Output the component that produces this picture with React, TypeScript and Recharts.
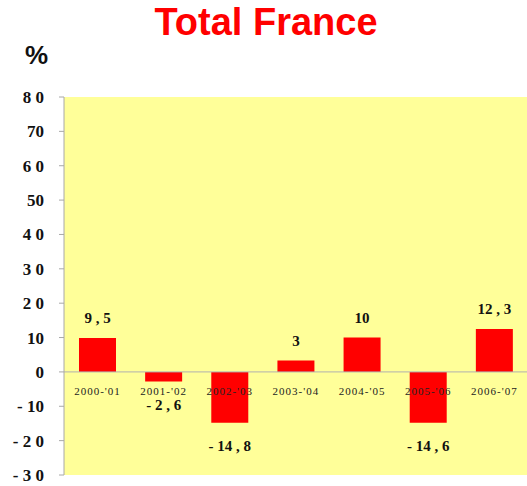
import { Bar, BarChart, CartesianGrid, LabelList, ReferenceLine, XAxis, YAxis } from "recharts";

const seasons = ["2000-'01", "2001-'02", "2002-'03", "2003-'04", "2004-'05", "2005-'06", "2006-'07"];
const change = [9.9, -2.8, -14.8, 3.3, 10, -14.8, 12.5];
const valueLabels = ["9 , 5", "- 2 , 6", "- 14 , 8", "3", "10", "- 14 , 6", "12 , 3"];
const yTicks = [-30, -20, -10, 0, 10, 20, 30, 40, 50, 60, 70, 80];
const yTickLabels = ["- 3 0", "- 2 0", "- 10", "0", "10", "2 0", "3 0", "4 0", "50", "6 0", "70", "8 0"];

const data = seasons.map((name, i) => ({ name, value: change[i], label: valueLabels[i] }));

const SERIF = "'Liberation Serif', 'Times New Roman', serif";

function ValueLabel(props: any) {
  const { x, y, width, height, index } = props;
  const top = Math.min(y, y + height);
  const bottom = Math.max(y, y + height);
  const v = change[index];
  const cx = x + width / 2;
  const ty = v >= 0 ? top - 20 : bottom + 23;
  return (
    <text x={cx} y={ty} textAnchor="middle" dominantBaseline="central" fontFamily={SERIF} fontWeight="bold" fontSize={15} fill="#111">
      {valueLabels[index]}
    </text>
  );
}

function SeasonLabel(props: any) {
  const { x, y, width, height, index } = props;
  const v = change[index];
  const zero = v >= 0 ? Math.max(y, y + height) : Math.min(y, y + height);
  return (
    <text x={x + width / 2} y={zero + 19} textAnchor="middle" dominantBaseline="central" fontFamily={SERIF} fontSize={11} letterSpacing={1} fill="#222">
      {seasons[index]}
    </text>
  );
}

export default function App() {
  return (
    <div style={{ position: "absolute", left: 0, top: 0, width: 527, height: 486, background: "#fff" }}>
      <div
        style={{
          position: "absolute",
          left: 0,
          width: 532,
          top: 0,
          textAlign: "center",
          fontFamily: "'Liberation Sans', Arial, sans-serif",
          fontWeight: "bold",
          fontSize: 38,
          lineHeight: "44px",
          color: "#ff0000",
        }}
      >
        Total France
      </div>
      <div
        style={{
          position: "absolute",
          left: 25,
          top: 40,
          fontFamily: "'Liberation Sans', Arial, sans-serif",
          fontWeight: "bold",
          fontSize: 26,
          lineHeight: "30px",
          color: "#111",
        }}
      >
        %
      </div>
      <BarChart width={527} height={486} data={data} margin={{ top: 97, right: 0, bottom: 11, left: 0 }}>
        <CartesianGrid fill="#ffff99" horizontal={false} vertical={false} stroke="none" />
        <XAxis dataKey="name" hide />
        <YAxis
          width={64}
          domain={[-30, 80]}
          ticks={yTicks}
          interval={0}
          tickSize={5}
          tickMargin={15}
          axisLine={{ stroke: "#a8a8a8" }}
          tickLine={{ stroke: "#a8a8a8" }}
          tickFormatter={(v) => yTickLabels[yTicks.indexOf(v)]}
          tick={{ fontFamily: SERIF, fontWeight: "bold", fontSize: 17, fill: "#111" }}
        />
        <ReferenceLine y={0} stroke="#b0b0b0" />
        <Bar dataKey="value" fill="#ff0000" barSize={37} isAnimationActive={false}>
          <LabelList dataKey="label" content={ValueLabel} />
          <LabelList dataKey="name" content={SeasonLabel} />
        </Bar>
      </BarChart>
    </div>
  );
}
